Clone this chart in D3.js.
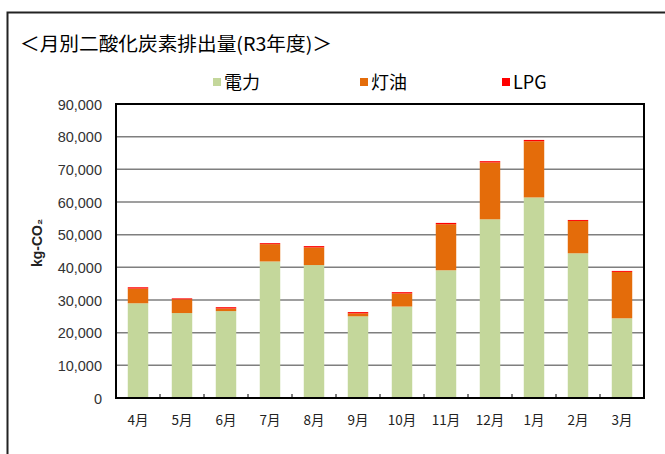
<!DOCTYPE html>
<html>
<head>
<meta charset="utf-8">
<script src="https://cdn.jsdelivr.net/npm/d3@7"></script>
<style>
  html, body { margin: 0; padding: 0; background: #fff; }
  svg { display: block; }
</style>
</head>
<body>
<svg id="chart" width="665" height="454"></svg>
<script>
const title = "＜月別二酸化炭素排出量(R3年度)＞";
const months = ["4月","5月","6月","7月","8月","9月","10月","11月","12月","1月","2月","3月"];
const seriesNames = ["電力","灯油","LPG"];
const seriesColors = ["#c4d79b","#e46c0a","#ff0000"];
const electricity = [29000,26000,26600,41800,40700,25000,28000,39100,54700,61400,44300,24400];
const kerosene    = [4500, 4200, 800,  5300, 5400, 900,  4000, 14100,17400,17200,9900, 14200];
const lpg         = [400,  300,  400,  300,  400,  400,  400,  400,  400,  400,  300,  300];
const yTicks = [0,10000,20000,30000,40000,50000,60000,70000,80000,90000];
const yLabel = "kg-CO₂";

const svg = d3.select("#chart");
const font = "'Liberation Sans', Arial, 'Noto Sans CJK JP', sans-serif";
const cjk = "'Noto Sans CJK JP', 'Liberation Sans', sans-serif";

// outer frame
svg.append("rect").attr("x", 7.5).attr("y", 12.5).attr("width", 700).attr("height", 500)
  .attr("fill", "none").attr("stroke", "#222").attr("stroke-width", 2);

// title
svg.append("text").attr("x", 20).attr("y", 51)
  .attr("font-family", cjk).attr("font-size", 19).attr("fill", "#000")
  .attr("textLength", 312).attr("lengthAdjust", "spacingAndGlyphs")
  .text(title);

const margin = {left: 116, right: 644, top: 104, bottom: 398};
const x = d3.scaleBand().domain(months).range([margin.left, margin.right]).paddingInner(0.535).paddingOuter(0.2675);
const y = d3.scaleLinear().domain([0, 90000]).range([margin.bottom, margin.top]);

// gridlines
svg.append("g").selectAll("line").data(yTicks.slice(1, -1)).join("line")
  .attr("x1", margin.left).attr("x2", margin.right)
  .attr("y1", d => y(d)).attr("y2", d => y(d))
  .attr("stroke", "#7f7f7f").attr("stroke-width", 1.5);

// stacked data
const rows = months.map((m, i) => ({month: m, "電力": electricity[i], "灯油": kerosene[i], "LPG": lpg[i]}));
const stack = d3.stack().keys(seriesNames)(rows);
svg.append("g").selectAll("g").data(stack).join("g")
  .attr("fill", (d, i) => seriesColors[i])
  .selectAll("rect").data(d => d).join("rect")
  .attr("x", d => x(d.data.month))
  .attr("width", x.bandwidth())
  .attr("y", d => y(d[1]))
  .attr("height", d => y(d[0]) - y(d[1]));

// plot border
svg.append("rect").attr("x", margin.left).attr("y", margin.top)
  .attr("width", margin.right - margin.left).attr("height", margin.bottom - margin.top)
  .attr("fill", "none").attr("stroke", "#000").attr("stroke-width", 2);

// x ticks (inside, at category boundaries)
const step = x.step();
svg.append("g").selectAll("line").data(months.slice(1)).join("line")
  .attr("x1", d => x(d) - (step - x.bandwidth()) / 2).attr("x2", d => x(d) - (step - x.bandwidth()) / 2)
  .attr("y1", margin.bottom).attr("y2", margin.bottom - 4)
  .attr("stroke", "#000").attr("stroke-width", 1);

// y axis labels
const yAxis = d3.axisLeft(y).tickValues(yTicks).tickSize(0).tickPadding(14)
  .tickFormat(d3.format(","));
const gy = svg.append("g").attr("transform", `translate(${margin.left},0)`).call(yAxis);
gy.select(".domain").remove();
gy.selectAll("text").attr("font-family", font).attr("font-size", 14.5).attr("fill", "#333")
  .attr("dy", "0.35em");

// x axis labels
const xAxis = d3.axisBottom(x).tickSize(0).tickPadding(17);
const gx = svg.append("g").attr("transform", `translate(0,${margin.bottom})`).call(xAxis);
gx.select(".domain").remove();
gx.selectAll("text").attr("font-family", cjk).attr("font-size", 13.5).attr("fill", "#222");

// y label
svg.append("text").attr("transform", "translate(42,243) rotate(-90)")
  .attr("text-anchor", "middle").attr("font-family", font).attr("font-size", 14)
  .attr("font-weight", "bold").attr("fill", "#222").text(yLabel);

// legend
const legendX = [213, 360, 502];
const lg = svg.append("g").selectAll("g").data(seriesNames).join("g")
  .attr("transform", (d, i) => `translate(${legendX[i]},0)`);
lg.append("rect").attr("x", 0).attr("y", 78).attr("width", 8).attr("height", 8)
  .attr("fill", (d, i) => seriesColors[i]);
lg.append("text").attr("x", 11).attr("y", 89)
  .attr("font-family", cjk).attr("font-size", 18).attr("fill", "#000")
  .text(d => d);
</script>
</body>
</html>
